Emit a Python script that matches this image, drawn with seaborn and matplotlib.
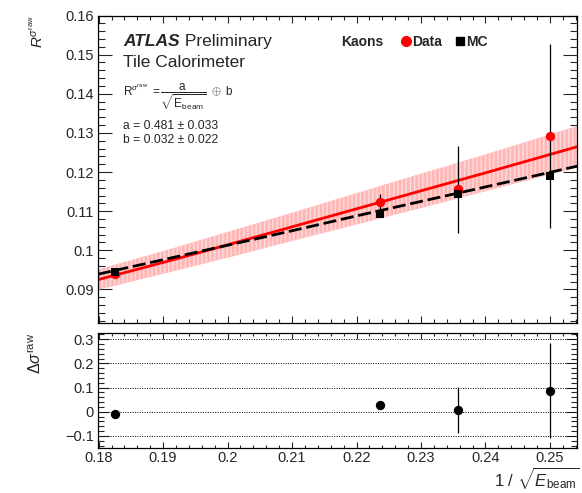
import numpy as np
import pandas as pd
import matplotlib
matplotlib.use("Agg")
import matplotlib.pyplot as plt
from matplotlib.ticker import MultipleLocator, FuncFormatter
from matplotlib.lines import Line2D
import seaborn as sns

# points: 1/sqrt(E_beam)
x_pts = [0.1826, 0.2236, 0.2357, 0.2500]
data_y = [0.0939, 0.1124, 0.1156, 0.1292]
data_err = [0.0010, 0.0020, 0.0111, 0.0236]
mc_y = [0.0945, 0.1092, 0.1145, 0.1190]
ratio_y = [-0.010, 0.030, 0.007, 0.087]
ratio_err = [0.004, 0.006, 0.094, 0.196]

# fit curves
fit_x = [0.1799, 0.19, 0.20, 0.21, 0.22, 0.23, 0.24, 0.2545]
data_fit = [0.0925, 0.0969, 0.1014, 0.1060, 0.1106, 0.1152, 0.1198, 0.1266]
band_lo = [0.0899, 0.0940, 0.0981, 0.1024, 0.1066, 0.1108, 0.1151, 0.1213]
band_hi = [0.0951, 0.0998, 0.1047, 0.1096, 0.1146, 0.1196, 0.1245, 0.1319]
mc_fit = [0.0939, 0.0976, 0.1013, 0.1050, 0.1088, 0.1125, 0.1162, 0.1216]

top_yticks = [0.09, 0.10, 0.11, 0.12, 0.13, 0.14, 0.15, 0.16]
bot_yticks = [-0.1, 0.0, 0.1, 0.2, 0.3]
xticks = [0.18, 0.19, 0.20, 0.21, 0.22, 0.23, 0.24, 0.25]

sns.set_theme(style="ticks")
plt.rcParams["font.family"] = ["Liberation Sans", "DejaVu Sans"]
plt.rcParams["mathtext.fontset"] = "custom"
plt.rcParams["mathtext.rm"] = "Liberation Sans"
plt.rcParams["mathtext.it"] = "Liberation Sans:italic"
plt.rcParams["mathtext.bf"] = "Liberation Sans:bold"
plt.rcParams["hatch.linewidth"] = 1.0

fig = plt.figure(figsize=(5.82, 4.93), dpi=100)
ax = fig.add_axes([0.1684, 0.3454, 0.8230, 0.6231])
axr = fig.add_axes([0.1684, 0.0907, 0.8230, 0.2338])

fmt = FuncFormatter(lambda v, p: f"{v:g}".replace("-", "\u2212"))

# ---- top panel
ax.fill_between(fit_x, band_lo, band_hi, facecolor="#ffb6b6", edgecolor="#ffdada",
                hatch="||||", linewidth=0, zorder=1)
sns.lineplot(x=fit_x, y=data_fit, color="red", linewidth=2, ax=ax, zorder=2)
sns.lineplot(x=fit_x, y=mc_fit, color="black", linewidth=2, linestyle=(0, (4.7, 1.7)),
             ax=ax, zorder=3)
ax.errorbar(x_pts, data_y, yerr=data_err, fmt="none", ecolor="black", elinewidth=0.9,
            capsize=0, zorder=4)
sns.scatterplot(x=x_pts, y=data_y, color="red", marker="o", s=45, linewidth=0, ax=ax, zorder=5)
sns.scatterplot(x=x_pts, y=mc_y, color="black", marker="s", s=40, linewidth=0, ax=ax, zorder=6)

ax.set_xlim(0.1799, 0.2542)
ax.set_ylim(0.0815, 0.16)
ax.set_yticks(top_yticks)
ax.set_xticks(xticks)
ax.yaxis.set_minor_locator(MultipleLocator(0.002))
ax.xaxis.set_minor_locator(MultipleLocator(0.002))
ax.yaxis.set_major_formatter(fmt)
ax.tick_params(axis="y", which="major", direction="in", length=10, width=0.8,
               left=True, right=True, labelsize=10.5, pad=3)
ax.tick_params(axis="y", which="minor", direction="in", length=5, width=0.8, left=True, right=True)
ax.tick_params(axis="x", which="major", direction="in", length=5, width=0.8,
               top=True, bottom=True, labelbottom=False)
ax.tick_params(axis="x", which="minor", direction="in", length=2.7, width=0.8, top=True, bottom=True)
ax.set_ylabel(r"$R^{\sigma^{\rm raw}}$", fontsize=11, ha="right")
ax.yaxis.set_label_coords(-0.109, 1.0)
ax.set_xlabel("")

t1 = ax.text(0.052, 0.916, "ATLAS", transform=ax.transAxes, fontsize=12.5,
             fontweight="bold", fontstyle="italic", va="center")
ax.annotate(" Preliminary", xy=(1, 0.5), xycoords=t1, fontsize=12.5, va="center")
ax.text(0.052, 0.848, "Tile Calorimeter", transform=ax.transAxes, fontsize=12.5, va="center")
ax.text(0.052, 0.735,
        r"$\mathrm{R}^{\sigma^{\rm raw}}\ = \dfrac{\mathrm{a}}{\sqrt{\mathrm{E}_{\rm beam}}}\ \oplus\ \mathrm{b}$",
        transform=ax.transAxes, fontsize=8.5, va="center")
ax.text(0.052, 0.639, "a = 0.481 \u00b1 0.033", transform=ax.transAxes, fontsize=8.7, va="center")
ax.text(0.052, 0.594, "b = 0.032 \u00b1 0.022", transform=ax.transAxes, fontsize=8.7, va="center")

ax.text(0.508, 0.913, "Kaons", transform=ax.transAxes, fontsize=10, fontweight="bold", va="center")
handles = [Line2D([], [], color="red", marker="o", linestyle="none", markersize=7),
           Line2D([], [], color="black", marker="s", linestyle="none", markersize=6)]
ax.legend(handles, ["Data", "MC"], ncol=2, loc="center left", bbox_to_anchor=(0.619, 0.913),
          frameon=False, handlelength=0.6, handletextpad=0.15, columnspacing=1.0,
          borderpad=0, prop={"weight": "bold", "size": 10})

# ---- ratio panel
for v in bot_yticks:
    axr.axhline(v, color="black", linestyle=(0, (1, 1.5)), linewidth=0.7, zorder=1)
axr.errorbar(x_pts, ratio_y, yerr=ratio_err, fmt="none", ecolor="black", elinewidth=0.9,
             capsize=0, zorder=2)
sns.scatterplot(x=x_pts, y=ratio_y, color="black", marker="o", s=45, linewidth=0, ax=axr, zorder=3)
axr.set_xlim(0.1799, 0.2542)
axr.set_ylim(-0.151, 0.326)
axr.set_yticks(bot_yticks)
axr.set_xticks(xticks)
axr.yaxis.set_minor_locator(MultipleLocator(0.02))
axr.xaxis.set_minor_locator(MultipleLocator(0.002))
axr.yaxis.set_major_formatter(fmt)
axr.xaxis.set_major_formatter(fmt)
axr.tick_params(axis="y", which="major", direction="in", length=8, width=0.8,
                left=True, right=True, labelsize=10.5, pad=3)
axr.tick_params(axis="y", which="minor", direction="in", length=4, width=0.8, left=True, right=True)
axr.tick_params(axis="x", which="major", direction="in", length=4, width=0.8,
                top=True, bottom=True, labelsize=10.5, pad=2)
axr.tick_params(axis="x", which="minor", direction="in", length=2, width=0.8, top=True, bottom=True)
axr.set_ylabel(r"$\Delta\sigma^{\rm raw}$", fontsize=11.5, ha="right")
axr.yaxis.set_label_coords(-0.112, 1.0)
axr.set_xlabel(r"$1\ /\ \sqrt{E_{\rm beam}}$", fontsize=12, ha="right", va="baseline")
axr.xaxis.set_label_coords(1.006, -0.33)

for a in (ax, axr):
    for s in a.spines.values():
        s.set_linewidth(0.9)
        s.set_color("black")

fig.savefig("out.png", dpi=100)
